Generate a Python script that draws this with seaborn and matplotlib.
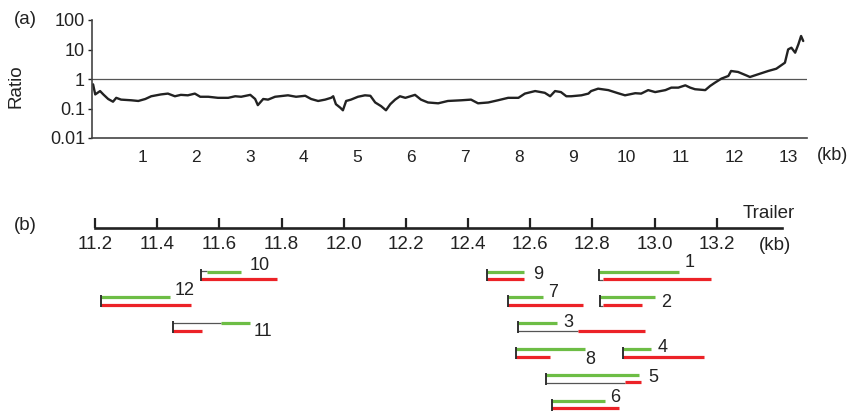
import numpy as np
import pandas as pd
import matplotlib
matplotlib.use("Agg")
import matplotlib.pyplot as plt
import seaborn as sns

# (a) ratio along the genome (kb)
pos_kb = [0.09, 0.13, 0.22, 0.28, 0.37, 0.46, 0.52, 0.61, 0.80, 0.93,
          1.06, 1.17, 1.35, 1.48, 1.61, 1.72, 1.85, 1.98, 2.08, 2.23,
          2.41, 2.60, 2.73, 2.84, 3.01, 3.10, 3.15, 3.25, 3.34, 3.47,
          3.71, 3.86, 4.03, 4.14, 4.27, 4.40, 4.51, 4.55, 4.60, 4.68,
          4.73, 4.79, 4.88, 5.01, 5.14, 5.24, 5.33, 5.44, 5.53, 5.61,
          5.70, 5.79, 5.89, 6.07, 6.18, 6.31, 6.50, 6.68, 6.93, 7.11,
          7.24, 7.43, 7.61, 7.80, 7.99, 8.11, 8.30, 8.48, 8.58, 8.67,
          8.78, 8.88, 8.97, 9.16, 9.29, 9.34, 9.47, 9.66, 9.84, 9.97,
          10.16, 10.27, 10.40, 10.53, 10.72, 10.83, 10.96, 11.09, 11.18, 11.27,
          11.46, 11.55, 11.64, 11.76, 11.89, 11.94, 12.07, 12.22, 12.29, 12.44,
          12.63, 12.78, 12.94, 13.00, 13.06, 13.13, 13.19, 13.24, 13.28]
ratio = [0.66, 0.30, 0.39, 0.30, 0.21, 0.17, 0.23, 0.20, 0.19, 0.18,
         0.21, 0.26, 0.30, 0.32, 0.26, 0.29, 0.28, 0.32, 0.25, 0.25,
         0.23, 0.23, 0.26, 0.25, 0.29, 0.21, 0.13, 0.21, 0.20, 0.25,
         0.28, 0.25, 0.27, 0.21, 0.18, 0.20, 0.23, 0.26, 0.14, 0.107,
         0.087, 0.18, 0.20, 0.25, 0.28, 0.27, 0.16, 0.12, 0.087, 0.14,
         0.20, 0.26, 0.23, 0.29, 0.20, 0.16, 0.15, 0.18, 0.19, 0.20,
         0.15, 0.16, 0.19, 0.23, 0.23, 0.32, 0.39, 0.34, 0.26, 0.39,
         0.36, 0.26, 0.26, 0.28, 0.32, 0.39, 0.47, 0.42, 0.33, 0.28,
         0.33, 0.32, 0.42, 0.36, 0.42, 0.51, 0.51, 0.61, 0.51, 0.45,
         0.42, 0.58, 0.75, 1.03, 1.27, 1.87, 1.73, 1.33, 1.17, 1.44,
         1.87, 2.23, 3.57, 10.1, 11.5, 7.8, 15.0, 28.7, 19.4]
genome_ticks = list(range(1, 14))

# (b) amplicons near the 3' end (kb)
amp_names = ["1", "2", "3", "4", "5", "6", "7", "8", "9", "10", "11", "12"]
amp_start = [12.82, 12.825, 12.56, 12.90, 12.65, 12.67, 12.53, 12.555, 12.46, 11.54, 11.45, 11.22]
green_start = [12.82, 12.825, 12.56, 12.90, 12.65, 12.67, 12.53, 12.555, 12.46, 11.56, 11.605, 11.22]
green_end = [13.08, 13.00, 12.685, 12.99, 12.95, 12.84, 12.64, 12.775, 12.58, 11.67, 11.70, 11.44]
red_start = [12.835, 12.835, 12.755, 12.90, 12.905, 12.67, 12.53, 12.555, 12.46, 11.54, 11.45, 11.22]
red_end = [13.18, 12.96, 12.97, 13.16, 12.955, 12.885, 12.77, 12.665, 12.58, 11.785, 11.545, 11.51]
amp_row = [1, 2, 3, 4, 5, 6, 2, 4, 1, 1, 3, 2]
scale_ticks = [11.2, 11.4, 11.6, 11.8, 12.0, 12.2, 12.4, 12.6, 12.8, 13.0, 13.2]

# label offsets (pixels) from the green bar end
label_dx = [5, 7, 7, 6, 9, 5, 5, 1, 9, 9, 3, 5]
label_dy = [-9, 5, -1, -2, 2, -4, -5, 10, 3, -6, 8, -7]

GREEN = "#6dbd45"
RED = "#ec2227"
INK = "#222222"

sns.set_style("white")
plt.rcParams["font.family"] = ["Liberation Sans", "DejaVu Sans"]

W, H = 849, 413
fig = plt.figure(figsize=(W / 100, H / 100), dpi=100)

# ---- panel (a)
ax_a = fig.add_axes([92 / W, 1 - 138 / H, (807 - 92) / W, (138 - 20) / H])
df = pd.DataFrame({"kb": pos_kb, "ratio": ratio})
sns.lineplot(data=df, x="kb", y="ratio", ax=ax_a, color=INK, lw=1.7)
ax_a.axhline(1, color="#555555", lw=0.9, zorder=0)
ax_a.set_yscale("log")
ax_a.set_ylim(0.01, 100)
ax_a.set_xlim(0.07, 13.35)
ax_a.set_yticks([0.01, 0.1, 1, 10, 100])
ax_a.set_yticklabels(["0.01", "0.1", "1", "10", "100"])
ax_a.minorticks_off()
ax_a.set_xticks(genome_ticks)
ax_a.set_xticklabels([str(t) for t in genome_ticks])
ax_a.tick_params(axis="x", length=0, pad=9, labelsize=12.5, colors=INK)
ax_a.tick_params(axis="y", direction="out", length=3, width=1, pad=2, labelsize=13, colors=INK)
ax_a.tick_params(axis="y", left=True)
for s in ["top", "right"]:
    ax_a.spines[s].set_visible(False)
for s in ["left", "bottom"]:
    ax_a.spines[s].set_color("#444444")
    ax_a.spines[s].set_linewidth(1.2)
ax_a.set_xlabel("")
ax_a.set_ylabel("Ratio", fontsize=13.5, color=INK)
ax_a.yaxis.set_label_coords(-0.094, 0.44)
fig.text(832 / W, 1 - 156 / H, "(kb)", fontsize=13, color=INK, ha="center", va="center")
fig.text(25 / W, 1 - 20 / H, "(a)", fontsize=13.5, color=INK, ha="center", va="center")

# ---- panel (b)
ax_b = fig.add_axes([95 / W, 0, (782 - 95) / W, (413 - 205) / H])
ax_b.set_xlim(11.2, 13.41)
ax_b.set_ylim(6.46, -1.57)
for s in ["top", "right", "left"]:
    ax_b.spines[s].set_visible(False)
ax_b.spines["bottom"].set_position(("data", -0.68))
ax_b.spines["bottom"].set_linewidth(1.9)
ax_b.spines["bottom"].set_color(INK)
ax_b.set_yticks([])
ax_b.set_xticks(scale_ticks)
ax_b.set_xticklabels([f"{t:.1f}" for t in scale_ticks])
ax_b.tick_params(axis="x", bottom=True, direction="in", length=7.5, width=1.6, pad=6,
                 labelsize=13.5, colors=INK)

gap = 0.28
for i, name in enumerate(amp_names):
    y = amp_row[i]
    x0 = amp_start[i]
    if green_start[i] > x0 + 0.005:
        ax_b.hlines(y - 0.03, x0, green_start[i], color="#555555", lw=0.9)
    if red_start[i] > x0 + 0.005:
        ax_b.hlines(y + gap + 0.03, x0, red_start[i], color="#555555", lw=0.9)
    ax_b.hlines(y, green_start[i], green_end[i], color=GREEN, lw=2.3)
    ax_b.hlines(y + gap, red_start[i], red_end[i], color=RED, lw=2.3)
    ax_b.vlines(x0, y - 0.08, y + gap + 0.1, color=INK, lw=1.3)
    ax_b.annotate(name, (green_end[i], y), xytext=(label_dx[i], -label_dy[i]),
                  textcoords="offset pixels", ha="left", va="center",
                  fontsize=13, color=INK)

fig.text(769 / W, 1 - 214 / H, "Trailer", fontsize=13.5, color=INK, ha="center", va="center")
fig.text(775 / W, 1 - 245 / H, "(kb)", fontsize=13.5, color=INK, ha="center", va="center")
fig.text(25 / W, 1 - 225 / H, "(b)", fontsize=13.5, color=INK, ha="center", va="center")

fig.savefig("out.png", dpi=100)
